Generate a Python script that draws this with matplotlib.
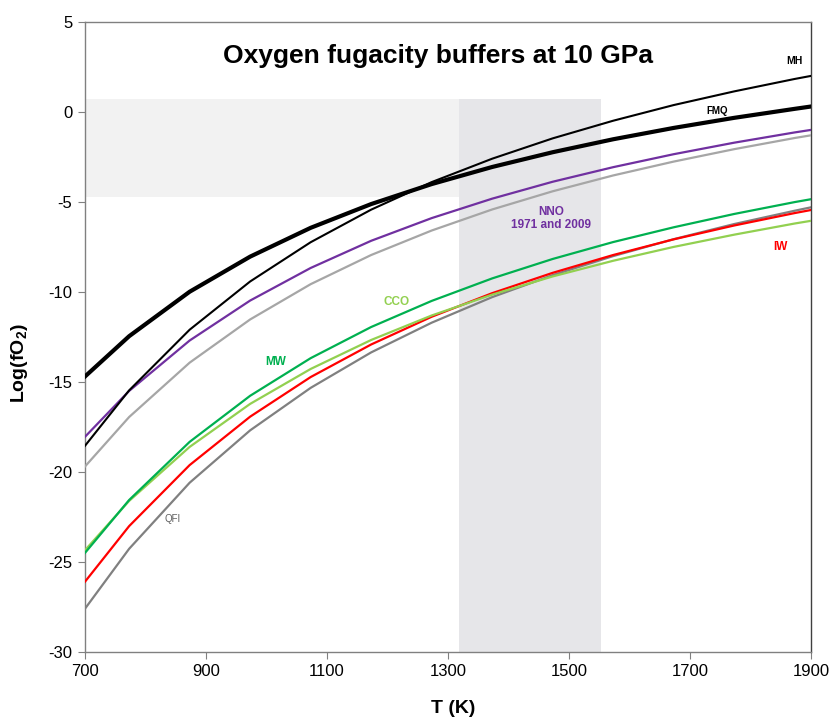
import matplotlib
matplotlib.use("Agg")
import matplotlib.pyplot as plt
from matplotlib.patches import Rectangle

plt.rcParams['font.family'] = ['Liberation Sans', 'DejaVu Sans']
plt.rcParams['axes.unicode_minus'] = False

T = [700, 773, 873, 973, 1073, 1173, 1273, 1373, 1473, 1573, 1673, 1773, 1873, 1900]
MH = [-18.55, -15.47, -12.10, -9.42, -7.24, -5.43, -3.90, -2.60, -1.47, -0.49, 0.38, 1.14, 1.83, 2.00]
FMQ = [-14.70, -12.46, -9.99, -8.04, -6.44, -5.12, -4.01, -3.06, -2.24, -1.52, -0.89, -0.33, 0.17, 0.30]
NNO_1971 = [-18.05, -15.50, -12.70, -10.48, -8.67, -7.16, -5.90, -4.82, -3.88, -3.07, -2.35, -1.71, -1.14, -1.00]
NNO_2009 = [-19.70, -16.95, -13.93, -11.53, -9.57, -7.95, -6.59, -5.42, -4.41, -3.53, -2.76, -2.07, -1.45, -1.30]
MW = [-24.50, -21.56, -18.33, -15.77, -13.68, -11.95, -10.50, -9.25, -8.17, -7.23, -6.41, -5.67, -5.01, -4.85]
CCO = [-24.35, -21.61, -18.61, -16.22, -14.28, -12.67, -11.31, -10.15, -9.14, -8.27, -7.50, -6.82, -6.20, -6.05]
IW = [-26.10, -23.01, -19.62, -16.93, -14.73, -12.92, -11.38, -10.07, -8.94, -7.95, -7.08, -6.31, -5.62, -5.45]
QFI = [-27.60, -24.27, -20.60, -17.69, -15.33, -13.36, -11.71, -10.29, -9.07, -8.01, -7.07, -6.23, -5.49, -5.30]

# shaded ranges
band_T = [1318, 1553]
band_top = 0.7
hband_logf = [-4.7, 0.7]

x_ticks = [700, 900, 1100, 1300, 1500, 1700, 1900]
y_ticks = [-30, -25, -20, -15, -10, -5, 0, 5]

fig = plt.figure(figsize=(8.33, 7.18), dpi=100)
ax = fig.add_axes([0.102, 0.092, 0.8716, 0.8775])

ax.add_patch(Rectangle((700, hband_logf[0]), band_T[0] - 700, hband_logf[1] - hband_logf[0],
                       facecolor='#f2f2f2', edgecolor='none', zorder=0))
ax.add_patch(Rectangle((band_T[0], -30), band_T[1] - band_T[0], band_top + 30,
                       facecolor='#e6e6e9', edgecolor='none', zorder=0))

ax.plot(T, QFI, color='#808080', lw=1.6, zorder=2)
ax.plot(T, IW, color='#ff0000', lw=1.6, zorder=3)
ax.plot(T, CCO, color='#92d050', lw=1.6, zorder=3)
ax.plot(T, MW, color='#00b050', lw=1.6, zorder=3)
ax.plot(T, NNO_2009, color='#a6a6a6', lw=1.6, zorder=3)
ax.plot(T, NNO_1971, color='#7030a0', lw=1.6, zorder=3)
ax.plot(T, MH, color='black', lw=1.5, zorder=4)
ax.plot(T, FMQ, color='black', lw=3.0, zorder=4)

ax.set_xlim(700, 1900)
ax.set_ylim(-30, 5)
ax.set_xticks(x_ticks)
ax.set_yticks(y_ticks)
ax.tick_params(direction='out', length=5, color='#808080', labelsize=12, pad=4)
for s in ax.spines.values():
    s.set_color('#808080')
    s.set_linewidth(1.0)
ax.spines['right'].set_color('#404040')

fig.text(0.5438, 0.0139, 'T (K)', fontsize=14, fontweight='bold', ha='center', va='center')
fig.text(0.024, 0.4944, 'Log(fO$_\\mathregular{2}$)', fontsize=14, fontweight='bold',
         ha='center', va='center', rotation=90)

ax.text(1284, 3.1, 'Oxygen fugacity buffers at 10 GPa', fontsize=19, fontweight='bold',
        ha='center', va='center')

ax.text(1873, 2.85, 'MH', fontsize=7.5, fontweight='bold', ha='center', va='center')
ax.text(1745, 0.05, 'FMQ', fontsize=7, fontweight='bold', ha='center', va='center')
ax.text(1471, -5.9, 'NNO\n1971 and 2009', fontsize=8.5, fontweight='bold', color='#7030a0',
        ha='center', va='center', linespacing=1.1)
ax.text(1215, -10.55, 'CCO', fontsize=8.5, fontweight='bold', color='#92d050', ha='center', va='center')
ax.text(1016, -13.9, 'MW', fontsize=8.5, fontweight='bold', color='#00b050', ha='center', va='center')
ax.text(1849, -7.5, 'IW', fontsize=8.5, fontweight='bold', color='#ff0000', ha='center', va='center')
ax.text(845, -22.6, 'QFI', fontsize=7, color='#606060', ha='center', va='center')

fig.savefig('out.png', dpi=100)
